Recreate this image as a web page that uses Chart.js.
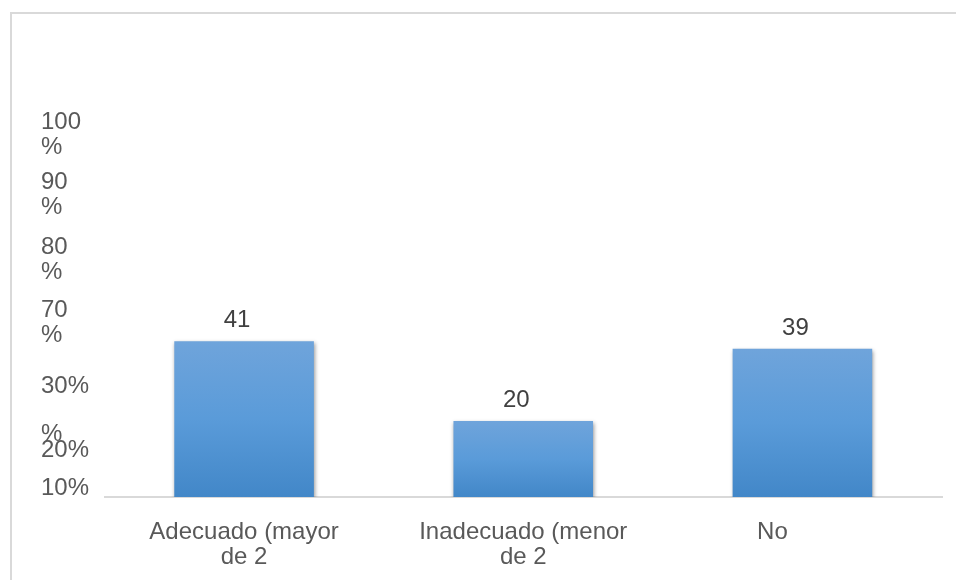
<!DOCTYPE html>
<html>
<head>
<meta charset="utf-8">
<script src="https://cdn.jsdelivr.net/npm/chart.js@4"></script>
<style>
  html, body { margin: 0; padding: 0; background: #ffffff; }
  #wrap { width: 956px; height: 580px; position: relative; }
</style>
</head>
<body>
<div id="wrap"><canvas id="chart"></canvas></div>
<script>
// Categories and counts
const categories = [
  ['Adecuado (mayor', 'de 2'],
  ['Inadecuado (menor', 'de 2'],
  ['No']
];
const values = [41, 20, 39];

// Y axis labels as they are printed, and where they sit on the 0-100 scale
const yTickLabels = [['100', '%'], ['90', '%'], ['80', '%'], ['70', '%'], '30%', '%', '20%', '10%'];
const yTickValues = [95.3, 79.6, 62.3, 45.9, 29.0, 16.4, 12.3, 2.3];

const FONT = '"Liberation Sans", Arial, sans-serif';

// thin grey frame along the top and left edge
const framePlugin = {
  id: 'frame',
  beforeDraw(chart) {
    const ctx = chart.ctx;
    ctx.save();
    ctx.strokeStyle = '#d9d9d9';
    ctx.lineWidth = 2;
    ctx.beginPath();
    ctx.moveTo(11, chart.height);
    ctx.lineTo(11, 13);
    ctx.lineTo(chart.width, 13);
    ctx.stroke();
    ctx.restore();
  }
};

// soft shadow under the bars
const shadowPlugin = {
  id: 'barShadow',
  beforeDatasetDraw(chart) {
    const ctx = chart.ctx;
    ctx.save();
    ctx.shadowColor = 'rgba(0, 0, 0, 0.4)';
    ctx.shadowBlur = 4;
    ctx.shadowOffsetX = 1;
    ctx.shadowOffsetY = 2;
  },
  afterDatasetDraw(chart) {
    chart.ctx.restore();
  }
};

// value on top of each bar
const valueLabels = {
  id: 'valueLabels',
  afterDatasetsDraw(chart) {
    const ctx = chart.ctx;
    const meta = chart.getDatasetMeta(0);
    ctx.save();
    ctx.font = '24px ' + FONT;
    ctx.fillStyle = '#404040';
    ctx.textAlign = 'center';
    ctx.textBaseline = 'alphabetic';
    meta.data.forEach((bar, i) => {
      ctx.fillText(String(values[i]), bar.x - 7, bar.y - 14);
    });
    ctx.restore();
  }
};

function barGradient(context) {
  const chart = context.chart;
  const y = chart.scales.y;
  if (!chart.chartArea || !y || context.dataIndex === undefined) return '#5b9bd5';
  const top = y.getPixelForValue(values[context.dataIndex]);
  const bottom = y.getPixelForValue(0);
  if (!isFinite(top) || !isFinite(bottom)) return '#5b9bd5';
  const g = chart.ctx.createLinearGradient(0, top, 0, bottom);
  g.addColorStop(0, '#6fa4db');
  g.addColorStop(0.5, '#5a9bd9');
  g.addColorStop(1, '#4287c8');
  return g;
}

new Chart(document.getElementById('chart'), {
  type: 'bar',
  data: {
    labels: categories,
    datasets: [{
      data: values,
      backgroundColor: barGradient,
      borderWidth: 0,
      categoryPercentage: 1.0,
      barPercentage: 0.5
    }]
  },
  options: {
    responsive: true,
    maintainAspectRatio: false,
    animation: false,
    events: [],
    layout: { padding: { top: 117, left: 41, right: 14, bottom: 13 } },
    plugins: {
      legend: { display: false },
      tooltip: { enabled: false }
    },
    scales: {
      x: {
        grid: { display: false },
        border: { display: true, color: '#d9d9d9', width: 2 },
        afterFit: (scale) => { scale.height = 70; },
        ticks: {
          color: '#595959',
          padding: 15,
          maxRotation: 0,
          autoSkip: false,
          font: { family: FONT, size: 24, lineHeight: 25 / 24 },
          callback: (v, i) => {
            const lab = categories[i];
            // the last label is printed left of its bar centre
            return lab.length === 1 ? lab[0] + '         ' : lab;
          }
        }
      },
      y: {
        min: 0,
        max: 100,
        grid: { display: false },
        border: { display: false },
        afterFit: (scale) => { scale.width = 63.5; },
        afterBuildTicks: (scale) => {
          scale.ticks = yTickValues.map(v => ({ value: v }));
        },
        ticks: {
          color: '#595959',
          padding: 16,
          crossAlign: 'far',
          autoSkip: false,
          font: { family: FONT, size: 24, lineHeight: 25 / 24 },
          callback: (v, i) => yTickLabels[i]
        }
      }
    }
  },
  plugins: [framePlugin, shadowPlugin, valueLabels]
});
</script>
</body>
</html>
